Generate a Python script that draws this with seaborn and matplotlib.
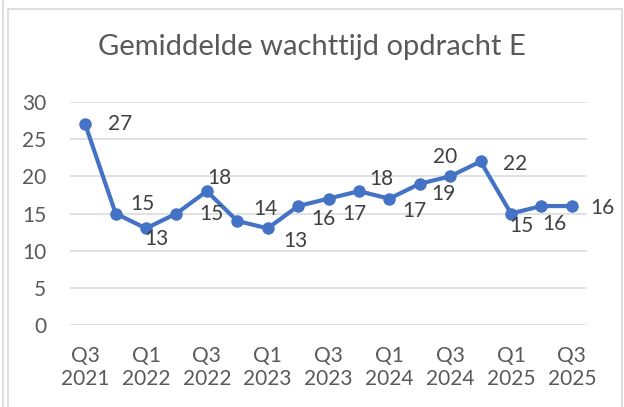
import numpy as np
import pandas as pd
import matplotlib
matplotlib.use("Agg")
import matplotlib.pyplot as plt
import seaborn as sns
from matplotlib.patches import Rectangle
from matplotlib.lines import Line2D

quarters = ["Q3 2021", "Q4 2021", "Q1 2022", "Q2 2022", "Q3 2022", "Q4 2022",
            "Q1 2023", "Q2 2023", "Q3 2023", "Q4 2023", "Q1 2024", "Q2 2024",
            "Q3 2024", "Q4 2024", "Q1 2025", "Q2 2025", "Q3 2025"]
wachttijd = [27, 15, 13, 15, 18, 14, 13, 16, 17, 18, 17, 19, 20, 22, 15, 16, 16]
yticks = [0, 5, 10, 15, 20, 25, 30]

# label offsets in pixels (dx, dy), like excel placed them
label_off = [(35, 0), (27, 10), (10, -11), (35, -1), (12, 13), (28, 12), (28, -13),
             (25, -13), (26, -15), (22, 12), (25, -12), (24, -10), (-5, 19),
             (35, -3), (10, -12), (13, -18), (31, -2)]

sns.set_theme(style="white")
plt.rcParams['font.family'] = ['Lato', 'DejaVu Sans']

df = pd.DataFrame({"pos": np.arange(len(quarters)), "kwartaal": quarters, "wachttijd": wachttijd})

fig = plt.figure(figsize=(6.24, 4.07), dpi=100)
ax = fig.add_axes([70/624, 82/407, 517/624, 223/407])

sns.lineplot(data=df, x="pos", y="wachttijd", ax=ax, color="#4472C4", linewidth=3,
             marker="o", markersize=9, markeredgewidth=0, zorder=3)

for i, v in enumerate(wachttijd):
    ax.annotate(str(v), (i, v), xytext=label_off[i], textcoords="offset pixels",
                ha="center", va="center", fontsize=15, color="#404040")

ax.set_xlim(-0.5, len(quarters) - 0.5)
ax.set_ylim(0, 30)
ax.set_yticks(yticks)
ax.set_yticklabels([str(t) for t in yticks], fontsize=15, color="#595959")
tick_pos = list(range(0, len(quarters), 2))
ax.set_xticks(tick_pos)
ax.set_xticklabels([quarters[i].replace(" ", "\n") for i in tick_pos], fontsize=15,
                   color="#595959", linespacing=1.2)
ax.tick_params(axis="y", length=0, pad=17)
ax.tick_params(axis="x", length=0, pad=15)
ax.grid(axis="y", color="#D9D9D9", linewidth=1.1)
ax.grid(axis="x", visible=False)
for s in ax.spines.values():
    s.set_visible(False)
ax.set_xlabel("")
ax.set_ylabel("")

fig.text(312/624, 1 - 47/407, "Gemiddelde wachttijd opdracht E", ha="center", va="center",
         fontsize=21, color="#595959")

# chart border
fig.patches.append(Rectangle((8/624, -0.05), 614/624, 1.05 - 9/407, transform=fig.transFigure,
                             fill=False, edgecolor="#D9D9D9", linewidth=1.2))
fig.lines.append(Line2D([2.5/624, 2.5/624], [0, 1], transform=fig.transFigure,
                        color="#D9D9D9", linewidth=1.2))

fig.savefig("out.png", dpi=100)
